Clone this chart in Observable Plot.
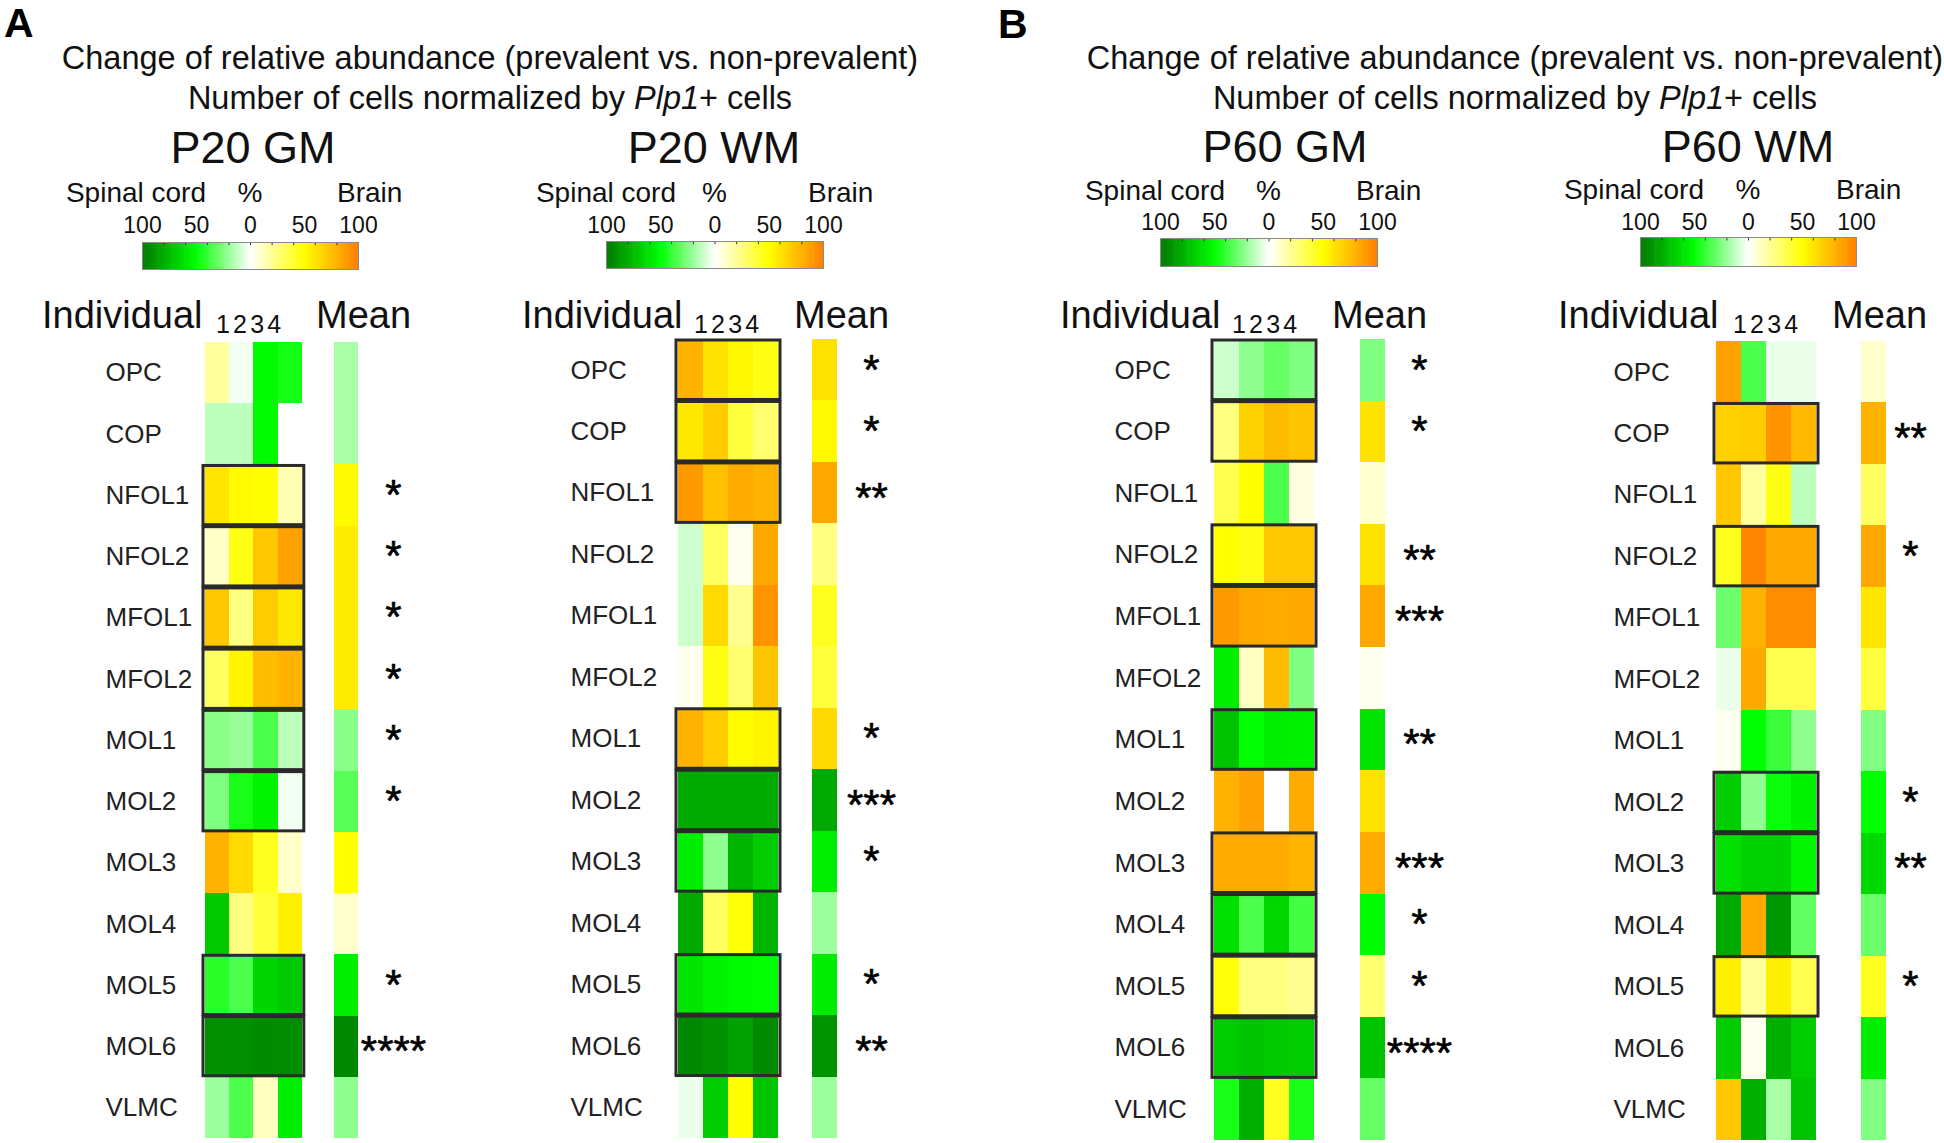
<!DOCTYPE html>
<html><head><meta charset="utf-8">
<script src="https://cdn.jsdelivr.net/npm/d3@7"></script>
<script src="https://cdn.jsdelivr.net/npm/@observablehq/plot@0.6"></script>
<style>
html,body{margin:0;padding:0;background:#fff;}
#fig{position:relative;width:1944px;height:1143px;overflow:hidden;font-family:"Liberation Sans",Arial,Helvetica,sans-serif;color:#111;background:#fff;}
.t{position:absolute;white-space:nowrap;line-height:1;}
#fig svg{position:absolute;overflow:visible;}
</style></head><body><div id="fig"></div>
<script>
// ---------- DATA ----------
const rowNames = ["OPC","COP","NFOL1","NFOL2","MFOL1","MFOL2","MOL1","MOL2","MOL3","MOL4","MOL5","MOL6","VLMC"];
const panelTitles = ["P20 GM","P20 WM","P60 GM","P60 WM"];
const columnDigits = "1234";
const barTickValues = [-100, -50, 0, 50, 100];
const barMinorTicks = [-80, -60, -40, -20, 0, 20, 40, 60, 80];
const colorStops = [-100, -50, 0, 50, 100];

// % change, individuals 1-4 (null = missing)
const p20gmIndividual = [
  [19, -3, -52, -46], [-13, -13, -52, null], [60, 52, 50, 15], [11, 46, 72, 87],
  [72, 25, 70, 59], [31, 54, 76, 80], [-23, -20, -35, -13], [-25, -45, -54, -3],
  [80, 65, 44, 11], [-70, 25, 38, 56], [-42, -35, -66, -70], [-91, -91, -93, -92], [-19, -35, 12, -56]];
const p20gmMean = [-17, -17, 52, 57, 57, 57, -23, -33, 50, 10, -56, -94, -22];
const p20gmStars = ["", "", "*", "*", "*", "*", "*", "*", "", "", "*", "****", ""];

const p20wmIndividual = [
  [80, 61, 53, 46], [59, 70, 38, 28], [90, 75, 83, 80], [-10, 31, 3, 84],
  [-10, 65, 22, 92], [3, 46, 28, 73], [80, 70, 51, 54], [-82, -81, -81, -81],
  [-56, -22, -78, -69], [-82, 31, 48, -78], [-60, -54, -52, -50], [-94, -91, -85, -93], [-4, -69, 50, -72]];
const p20wmMean = [61, 52, 84, 25, 44, 38, 65, -82, -56, -19, -57, -90, -19];
const p20wmStars = ["*", "*", "**", "", "", "", "*", "***", "*", "", "*", "**", ""];

const p60gmIndividual = [
  [-10, -22, -30, -25], [25, 68, 76, 73], [34, 50, -35, 6], [50, 46, 72, 72],
  [90, 84, 83, 84], [-56, 12, 76, -25], [-72, -50, -56, -55], [80, 87, null, 83],
  [83, 83, 83, 79], [-62, -35, -64, -37], [48, 25, 25, 22], [-69, -72, -70, -69], [-45, -80, 44, -45]];
const p60gmMean = [-25, 61, 9, 61, 84, 3, -60, 61, 83, -52, 28, -72, -30];
const p60gmStars = ["*", "*", "", "**", "***", "", "**", "", "***", "*", "*", "****", ""];

const p60wmIndividual = [
  [87, -35, -4, -4], [68, 70, 92, 77], [72, 19, 46, -13], [44, 97, 84, 84],
  [-29, 80, 95, 95], [-4, 84, 34, 34], [3, -50, -39, -22], [-69, -22, -48, -55],
  [-62, -67, -67, -53], [-82, 84, -88, -31], [56, 19, 56, 34], [-69, 3, -80, -69], [72, -80, -17, -72]];
const p60wmMean = [10, 80, 31, 84, 60, 38, -25, -50, -64, -29, 44, -56, -25];
const p60wmStars = ["", "**", "", "*", "", "", "", "*", "**", "", "*", "", ""];

const panelData = [
  {individual: p20gmIndividual, mean: p20gmMean, stars: p20gmStars},
  {individual: p20wmIndividual, mean: p20wmMean, stars: p20wmStars},
  {individual: p60gmIndividual, mean: p60gmMean, stars: p60gmStars},
  {individual: p60wmIndividual, mean: p60wmMean, stars: p60wmStars}
];

// ---------- LAYOUT / STYLE ----------
const colorRange = ["#007800", "#00ff00", "#ffffff", "#ffff00", "#ff8000"];
const FONT = '"Liberation Sans", Arial, Helvetica, sans-serif';
const layout = [
  {title:[253,163], bar:[142,358,242,269], spinalRight:206, brainLeft:337, hdrY:203, tickY:232,
   hdr:[42,216,316], labelLeft:105, starX:393, cellLeft:205, colW:24.2, meanCell:334, rowTop:342, rowBottom:1138},
  {title:[714,163], bar:[606,823,241,268], spinalRight:676, brainLeft:808, hdrY:203, tickY:232,
   hdr:[522,694,794], labelLeft:570, starX:871, cellLeft:678, colW:25, meanCell:812, rowTop:339, rowBottom:1138},
  {title:[1285,162], bar:[1160,1377,238,266], spinalRight:1225, brainLeft:1356, hdrY:201, tickY:229,
   hdr:[1060,1232,1332], labelLeft:1114, starX:1419, cellLeft:1214, colW:25, meanCell:1360, rowTop:339, rowBottom:1140},
  {title:[1748,162], bar:[1640,1856,237,266], spinalRight:1704, brainLeft:1836, hdrY:200, tickY:229,
   hdr:[1558,1733,1832], labelLeft:1613, starX:1910, cellLeft:1716, colW:25, meanCell:1861, rowTop:341, rowBottom:1140}
];
const figureLabels = [{t:"A", x:4, y:38}, {t:"B", x:998, y:39}];
const figureTitleX = [490, 1515];

const fig = document.getElementById("fig");
const colorScale = {type: "linear", domain: colorStops, range: colorRange, interpolate: "rgb"};

function text(html, x, baseline, size, anchor = "start", extra = {}) {
  const d = document.createElement("div");
  d.className = "t";
  d.innerHTML = html;
  d.style.fontSize = size + "px";
  d.style.top = (baseline - 0.8465 * size) + "px";
  d.style.left = x + "px";
  if (anchor === "middle") d.style.transform = "translateX(-50%)";
  if (anchor === "end") d.style.transform = "translateX(-100%)";
  Object.assign(d.style, extra);
  fig.appendChild(d);
}
function place(svg, left, top) {
  svg.style.left = left + "px";
  svg.style.top = top + "px";
  fig.appendChild(svg);
}

// figure headers
figureLabels.forEach((f, k) => {
  text(f.t, f.x, f.y, 41, "start", {fontWeight: "bold", color: "#000"});
  text("Change of relative abundance (prevalent vs. non-prevalent)", figureTitleX[k], 70, 32.5, "middle");
  text("Number of cells normalized by <i>Plp1</i>+ cells", figureTitleX[k], 110, 32.5, "middle");
});

const gradientSteps = d3.range(-100, 100, 1);

layout.forEach((L, k) => {
  const D = panelData[k];
  // panel title
  text(panelTitles[k], L.title[0], L.title[1], 45, "middle");
  // colorbar header
  const [bx1, bx2, by1, by2] = L.bar;
  text("Spinal cord", L.spinalRight, L.hdrY, 28, "end");
  text("%", (bx1 + bx2) / 2, L.hdrY, 28, "middle");
  text("Brain", L.brainLeft, L.hdrY, 28, "start");
  // colorbar
  const pad = 24, top = 34;
  const bar = Plot.plot({
    width: (bx2 - bx1) + 2 * pad, height: (by2 - by1) + top + 2,
    marginLeft: pad, marginRight: pad, marginTop: top, marginBottom: 2,
    x: {domain: [-100, 100]},
    y: {domain: [0, 1], axis: null},
    color: colorScale,
    style: {fontFamily: FONT, color: "#111", background: "transparent", overflow: "visible"},
    marks: [
      Plot.rect(gradientSteps, {x1: d => d, x2: d => Math.min(100, d + 1.6), y1: () => 0, y2: () => 1, fill: d => d + 0.5}),
      Plot.ruleX(barMinorTicks, {y1: () => 1, y2: () => 0.88, stroke: "#333", strokeWidth: 1}),
      Plot.frame({stroke: "#8a8a8a", strokeWidth: 1}),
      Plot.axisX({anchor: "top", ticks: barTickValues, tickFormat: d => Math.abs(d), tickSize: 0,
        tickPadding: by1 - L.tickY, fontSize: 23, label: null})
    ]
  });
  place(bar, bx1 - pad, by1 - top);

  // "Individual 1234 Mean"
  text("Individual", L.hdr[0], 328, 38);
  text(columnDigits, L.hdr[1], 333, 25, "start", {letterSpacing: "3.2px"});
  text("Mean", L.hdr[2], 328, 38);

  // heatmap
  const meanX = (L.meanCell - L.cellLeft) / L.colW;
  const cells = [];
  rowNames.forEach((r, i) => {
    D.individual[i].forEach((v, j) => { if (v != null) cells.push({row: i, x1: j, x2: j + 1, v}); });
    cells.push({row: i, x1: meanX, x2: meanX + 1, v: D.mean[i]});
  });
  const sig = rowNames.map((r, i) => ({i, s: D.stars[i]})).filter(d => d.s);
  const plotTop = 300, left = L.labelLeft, width = L.starX + 40 - left;
  const starStyle = {frameAnchor: "right", textAnchor: "middle", fontSize: 42, fill: "#000", stroke: "#000", strokeWidth: 0.6};
  const heat = Plot.plot({
    width, height: 1143 - plotTop,
    marginLeft: 0, marginRight: 40, marginTop: 0, marginBottom: 0,
    x: {type: "linear", domain: [0, 1], range: [L.cellLeft - left, L.cellLeft - left + L.colW], axis: null},
    y: {type: "linear", domain: [0, rowNames.length], range: [L.rowTop - plotTop, L.rowBottom - plotTop], axis: null},
    color: colorScale,
    style: {fontFamily: FONT, color: "#1a1a1a", background: "transparent", overflow: "visible"},
    marks: [
      Plot.rect(cells, {x1: "x1", x2: "x2", y1: "row", y2: d => d.row + 1, fill: "v", shapeRendering: "crispEdges"}),
      Plot.rect(sig, {x1: () => 0, x2: () => 4, y1: d => d.i, y2: d => d.i + 1, fill: "none",
        stroke: "#2a2a2a", strokeWidth: 3, insetTop: 1, insetBottom: 1, insetLeft: -2, insetRight: -2}),
      Plot.text(rowNames, {y: (d, i) => i + 0.5, text: d => d, frameAnchor: "left", textAnchor: "start",
        fontSize: 26, fill: "#222"}),
      Plot.text(sig.filter(d => d.s.length === 1), {y: d => d.i + 0.5, text: d => d.s, dy: 0, ...starStyle}),
      Plot.text(sig.filter(d => d.s.length > 1), {y: d => d.i + 0.5, text: d => d.s, dy: 5, ...starStyle})
    ]
  });
  place(heat, left, plotTop);
});
</script></body></html>
